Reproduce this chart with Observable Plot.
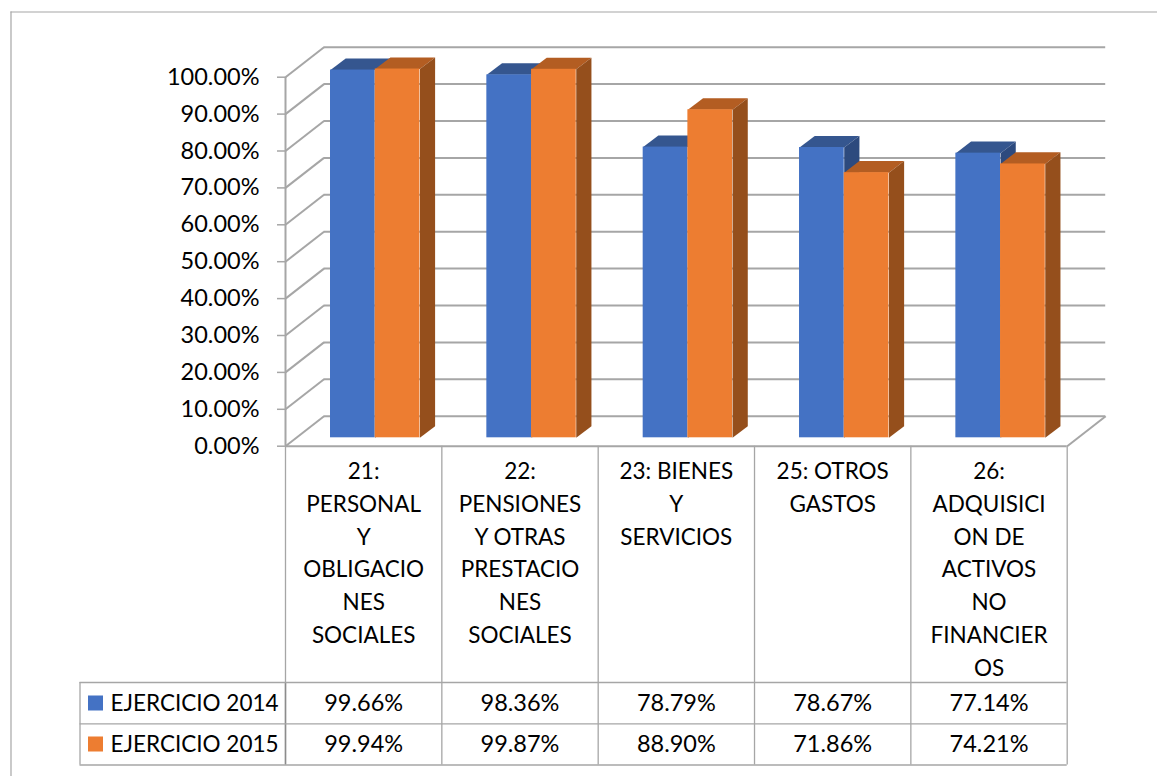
<!DOCTYPE html>
<html>
<head>
<meta charset="utf-8">
<script src="https://cdn.jsdelivr.net/npm/d3@7"></script>
<script src="https://cdn.jsdelivr.net/npm/@observablehq/plot@0.6"></script>
<style>html,body{margin:0;padding:0;background:#fff}svg{display:block}</style>
</head>
<body>
<div id="chart"></div>
<script>
const categories = [
  "21:\nPERSONAL\nY\nOBLIGACIO\nNES\nSOCIALES",
  "22:\nPENSIONES\nY OTRAS\nPRESTACIO\nNES\nSOCIALES",
  "23: BIENES\nY\nSERVICIOS",
  "25: OTROS\nGASTOS",
  "26:\nADQUISICI\nON DE\nACTIVOS\nNO\nFINANCIER\nOS"
];
const seriesNames = ["EJERCICIO 2014", "EJERCICIO 2015"];
const values2014 = [99.66, 98.36, 78.79, 78.67, 77.14];
const values2015 = [99.94, 99.87, 88.90, 71.86, 74.21];
const yTicks = [0, 10, 20, 30, 40, 50, 60, 70, 80, 90, 100];

// layout in pixels, converted to scale units so every mark goes through the scales
const W = 1157, H = 776, X0 = 285, X5 = 1066.7, Y0 = 445.7, Y100 = 76.7;
const xAt = px => (px - X0) / ((X5 - X0) / 5);
const yAt = px => (Y0 - px) / ((Y0 - Y100) / 100);
const wallDx = xAt(X0 + 38.5), wallDy = yAt(Y0 - 30);
const barDx = xAt(X0 + 15.2), barDy = yAt(Y0 - 11.6);
const barStart = xAt(X0 + 45), barW = xAt(X0 + 44.7), barBase = yAt(437.3);
const GRID = "#a6a6a6";
const font = "Lato, Carlito, Calibri, sans-serif";
const FS = 22.5, FN = 23.5;

const series = [values2014, values2015].map((vals, s) => vals.map((v, i) => ({
  i, s, v,
  x1: i + barStart + s * barW,
  x2: i + barStart + (s + 1) * barW,
  y1: barBase,
  y2: barBase + v
})));

function faces(rows) {
  const out = [];
  for (const r of rows) {
    const top = [[r.x1, r.y2], [r.x2, r.y2], [r.x2 + barDx, r.y2 + barDy], [r.x1 + barDx, r.y2 + barDy]];
    const side = [[r.x2, r.y1], [r.x2, r.y2], [r.x2 + barDx, r.y2 + barDy], [r.x2 + barDx, r.y1 + barDy]];
    top.forEach(([x, y]) => out.push({x, y, id: `t${r.s}-${r.i}`, c: r.s ? "#b35d22" : "#35568f"}));
    side.forEach(([x, y]) => out.push({x, y, id: `s${r.s}-${r.i}`, c: r.s ? "#954f1c" : "#2d4a7e"}));
  }
  return out;
}

const poly = rows => Plot.line(faces(rows), {x: "x", y: "y", z: "id", fill: "c", stroke: "none"});
const front = (rows, color) => Plot.rect(rows, {x1: "x1", x2: "x2", y1: "y1", y2: "y2", fill: color, inset: 0});

const colEdges = d3.range(0, 6);
const rowTop = yAt(682), rowMid = yAt(723.3), rowBot = yAt(764.5);
const rowCenters = [yAt(703), yAt(744)];
const tableLeft = xAt(79.5);

const tableRows = [values2014, values2015].flatMap((vals, r) =>
  vals.map((v, i) => ({x: i + 0.5, y: rowCenters[r], t: v.toFixed(2) + "%"})));

const chart = Plot.plot({
  width: W, height: H,
  marginLeft: X0, marginRight: W - X5, marginTop: Y100, marginBottom: H - Y0,
  x: {domain: [0, 5], axis: null},
  y: {domain: [0, 100], axis: null},
  style: {fontFamily: font, background: "#fff"},
  marks: [
    // outer frame
    Plot.ruleY([yAt(11.5)], {x1: xAt(10.5), x2: xAt(W), stroke: GRID, strokeWidth: 1.2}),
    Plot.ruleX([xAt(10.5)], {y1: yAt(11.5), y2: yAt(H), stroke: GRID, strokeWidth: 1.2}),
    // back wall gridlines
    Plot.ruleY(yTicks.map(v => v + wallDy), {x1: wallDx, x2: 5 + wallDx, stroke: GRID, strokeWidth: 2}),
    // side wall diagonals
    Plot.link(yTicks, {x1: 0, y1: d => d, x2: wallDx, y2: d => d + wallDy, stroke: GRID, strokeWidth: 2}),
    // floor right edge
    Plot.link([0], {x1: 5, y1: 0, x2: 5 + wallDx, y2: wallDy, stroke: GRID, strokeWidth: 2}),
    // bars
    poly(series[0]), front(series[0], "#4472c4"),
    poly(series[1]), front(series[1], "#ed7d31"),
    // category / table lines
    Plot.ruleX(colEdges, {y1: rowBot, y2: 0, stroke: GRID, strokeWidth: 1.3}),
    Plot.ruleY([0], {x1: 0, x2: 5, stroke: GRID, strokeWidth: 2}),
    Plot.ruleX([0], {y1: 0, y2: 100, stroke: GRID, strokeWidth: 2}),
    Plot.ruleX([0], {y1: rowBot, y2: rowTop, stroke: "#8c8c8c", strokeWidth: 1.5}),
    Plot.ruleX([tableLeft], {y1: rowTop, y2: rowBot, stroke: GRID, strokeWidth: 1.3}),
    Plot.ruleY([rowTop, rowMid, rowBot], {x1: tableLeft, x2: 5, stroke: GRID, strokeWidth: 1.3}),
    // axes
    Plot.axisY({
      ticks: yTicks, tickFormat: d => d.toFixed(2) + "%", tickSize: 8, tickPadding: 18,
      stroke: GRID, strokeWidth: 1.5, fill: "#000", fontSize: FN, label: null, strokeOpacity: 1
    }),
    Plot.axisX({
      ticks: d3.range(5).map(i => i + 0.5), tickFormat: d => categories[d - 0.5],
      tickSize: 0, tickPadding: 10, lineHeight: 1.453, fontSize: FS, fill: "#000", label: null,
      lineWidth: Infinity, textOverflow: null
    }),
    // table values
    Plot.text(tableRows, {x: "x", y: "y", text: "t", fontSize: FN, fill: "#000"}),
    // legend
    Plot.rect(rowCenters.map((y, i) => ({y, i})), {
      x1: xAt(88), x2: xAt(103), y1: d => d.y - yAt(445.7 - 7.5), y2: d => d.y + yAt(445.7 - 7.5),
      fill: d => d.i ? "#ed7d31" : "#4472c4"
    }),
    Plot.text(seriesNames.map((t, i) => ({t, y: rowCenters[i]})), {
      x: xAt(110), y: "y", text: "t", textAnchor: "start", fontSize: FS, fill: "#000"
    })
  ]
});
document.getElementById("chart").append(chart);
</script>
</body>
</html>
